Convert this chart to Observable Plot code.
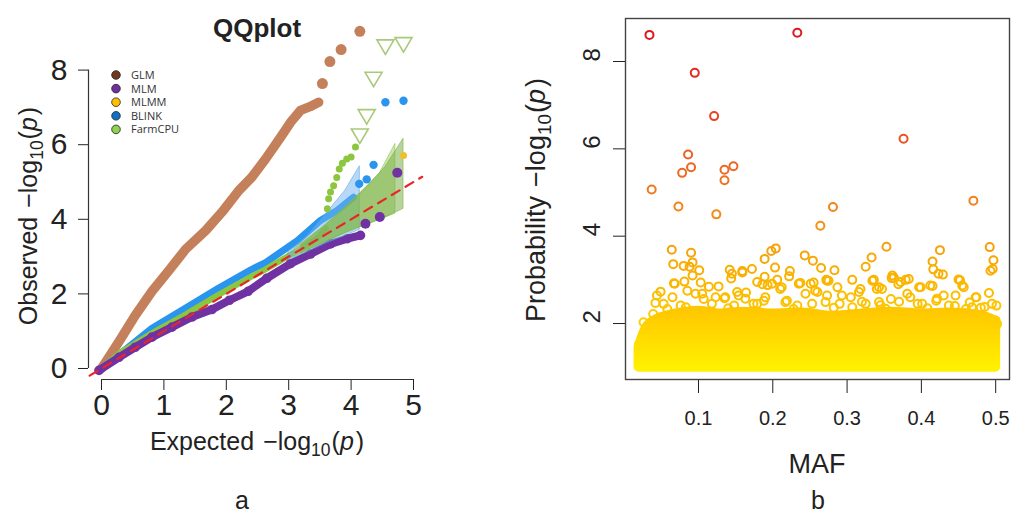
<!DOCTYPE html>
<html><head><meta charset="utf-8">
<script src="https://cdn.jsdelivr.net/npm/d3@7"></script>
<script src="https://cdn.jsdelivr.net/npm/@observablehq/plot@0.6"></script>
<style>
html,body{margin:0;padding:0;background:#fff;}
#wrap{position:relative;width:1011px;height:516px;overflow:hidden;background:#fff;}
#wrap > svg{position:absolute;overflow:visible;}
</style></head><body><div id="wrap"></div>
<script>
// ---------------- Panel a: QQ plot data ----------------
const glmX = [0, 0.28, 0.54, 0.81, 1.08, 1.35, 1.67, 1.93, 2.20, 2.41, 2.63, 2.87, 3.03, 3.19, 3.34, 3.48];
const glmY = [0, 0.72, 1.42, 2.07, 2.63, 3.20, 3.70, 4.19, 4.77, 5.13, 5.62, 6.20, 6.60, 6.92, 7.02, 7.14];
const glmTopX = [3.54, 3.66, 3.84, 4.14];
const glmTopY = [7.64, 8.23, 8.55, 9.04];

const mlmX = [-0.04, 0.28, 0.54, 0.81, 1.13, 1.45, 1.77, 2.05, 2.35, 2.65, 3.03, 3.35, 3.67, 3.94, 4.15];
const mlmY = [-0.05, 0.30, 0.57, 0.84, 1.11, 1.38, 1.58, 1.83, 2.07, 2.42, 2.81, 3.07, 3.34, 3.48, 3.57];
const mlmTopX = [4.23, 4.46, 4.74];
const mlmTopY = [3.88, 4.06, 5.25];

const mlmmX = [4.84];
const mlmmY = [5.71];

const blinkX = [0, 0.38, 0.81, 1.35, 1.88, 2.41, 2.63, 3.14, 3.51, 3.78, 4.04];
const blinkY = [0, 0.50, 1.08, 1.62, 2.16, 2.66, 2.84, 3.43, 3.97, 4.24, 4.59];
const blinkTopX = [4.13, 4.25, 4.36, 4.55, 4.84];
const blinkTopY = [4.95, 5.07, 5.46, 7.14, 7.18];

const farmX = [0, 0.28, 0.81, 1.35, 1.88, 2.41, 2.60, 3.14, 3.46, 3.60];
const farmY = [0, 0.40, 0.95, 1.45, 1.98, 2.47, 2.63, 3.16, 3.50, 3.75];
const farmTopX = [3.62, 3.64, 3.67, 3.72, 3.77, 3.81, 3.86, 3.93, 4.00, 4.07];
const farmTopY = [4.28, 4.55, 4.73, 4.90, 5.12, 5.35, 5.50, 5.62, 5.67, 5.94];
const farmTriX = [4.14, 4.25, 4.36, 4.55, 4.84];
const farmTriY = [6.25, 6.77, 7.77, 8.64, 8.70];

const bandBlinkX  = [3.0, 3.3, 3.6, 3.9, 4.14];
const bandBlinkLo = [2.90, 3.12, 3.35, 3.55, 3.72];
const bandBlinkHi = [3.15, 3.55, 4.15, 4.75, 5.42];
const bandFarmX  = [3.1, 3.5, 3.9, 4.2, 4.45, 4.71];
const bandFarmLo = [3.00, 3.32, 3.62, 3.82, 3.98, 4.15];
const bandFarmHi = [3.22, 3.72, 4.30, 4.78, 5.20, 6.02];
const bandMlmmX  = [3.2, 3.6, 4.0, 4.3, 4.55, 4.84];
const bandMlmmLo = [3.08, 3.40, 3.70, 3.88, 4.05, 4.28];
const bandMlmmHi = [3.32, 3.85, 4.45, 4.95, 5.40, 6.16];

const diagX = [-0.19, 5.14];

const qqXTicks = [0, 1, 2, 3, 4, 5];
const qqXTickLabels = ["0", "1", "2", "3", "4", "5"];
const qqYTicks = [0, 2, 4, 6, 8];
const qqYTickLabels = ["0", "2", "4", "6", "8"];

const legendNames  = ["GLM", "MLM", "MLMM", "BLINK", "FarmCPU"];
const legendColors = ["#71391c", "#7030a0", "#ffc000", "#1170c4", "#92d050"];

// ---------------- Panel b: MAF scatter data ----------------
const mafX = [0.034,0.233,0.095,0.121,0.376,0.086,0.090,0.078,0.135,0.147,0.135,0.037,0.073,0.124,0.281,0.264,0.470,
  0.064,0.090,0.204,0.198,0.243,0.353,0.425,0.492,0.333,0.189,0.254,0.415,0.497,
  0.066,0.080,0.092,0.088,0.101,0.142,0.144,0.159,0.172,0.203,0.223,0.222,0.265,0.283,0.325,0.363,0.379,0.416,0.429,0.452,0.496,
  0.272,0.307,0.336,0.360,0.450,0.457,0.491,
  0.049,0.067,0.081,0.103,0.114,0.127,0.135,0.154,0.164,0.186,0.189,0.193,0.206,0.212,0.237,0.244,0.255,0.257,0.275,0.287,
  0.318,0.340,0.343,0.369,0.399,0.415,0.474,0.501,0.502,0.273,0.305,0.359,0.430,0.385,
  0.065,0.042,0.026,0.020,0.039,0.076,0.044,0.053,0.085,0.096,0.107,0.123,0.148,0.174,0.188,0.219,0.233,0.253,
  0.290,0.320,0.345,0.370,0.395,0.420,0.445,0.465,0.485,
  0.068,0.092,0.105,0.136,0.152,0.163,0.145,0.159,0.199,0.210,0.190,0.235,0.251,0.260,0.273,0.271,0.293,0.316,0.334,
  0.347,0.343,0.361,0.372,0.383,0.397,0.381,0.412,0.423,0.421,0.455,0.446,0.473,0.495,0.500,0.493,0.179,0.083,0.118,
  0.179,0.217,0.307,0.325,0.401,0.437,0.468,0.058,0.030,0.140,0.228,0.282,0.352,0.408,0.460,0.480];
const mafY = [8.61,8.66,7.74,6.75,6.23,5.87,5.58,5.45,5.52,5.60,5.28,5.07,4.68,4.50,4.67,4.24,4.81,
  3.69,3.62,3.72,3.66,3.56,3.76,3.68,3.75,3.51,3.48,3.44,3.42,3.45,
  3.36,3.32,3.40,3.30,3.22,3.23,3.03,3.20,3.25,3.28,3.20,3.08,3.27,3.22,3.30,3.05,3.00,3.24,3.12,2.99,3.25,
  3.00,3.00,3.00,3.04,3.01,2.83,2.70,
  2.73,2.92,2.96,2.94,2.84,2.85,2.58,2.64,2.71,2.90,3.07,2.88,3.00,2.83,2.93,2.68,2.94,2.75,2.98,2.83,
  2.79,2.79,2.83,2.90,2.83,2.86,2.60,2.41,1.99,2.64,2.60,2.56,2.64,2.60,
  2.60,2.47,2.03,1.53,2.22,2.41,2.64,2.45,2.75,2.68,2.56,2.60,2.41,2.45,2.52,2.52,2.41,2.45,
  2.45,2.50,2.42,2.50,2.45,2.52,2.40,2.48,2.38,
  2.91,3.10,2.68,2.60,2.72,2.57,3.14,3.17,2.91,2.79,2.60,2.91,2.91,2.72,2.98,2.49,2.64,2.72,2.98,
  2.79,2.49,3.10,2.95,3.02,2.83,2.68,2.87,3.14,2.57,2.87,2.64,2.60,2.45,2.07,3.21,2.95,2.37,2.45,
  2.45,2.49,2.37,2.45,2.45,2.41,2.37,2.33,1.85,2.35,2.33,2.36,2.34,2.35,2.33,2.36];
// upper envelope of the dense, fully overlapped cloud of points
const bandMaf = [0.020,0.030,0.045,0.060,0.080,0.100,0.130,0.160,0.200,0.240,0.280,0.320,0.360,0.400,0.440,0.480,0.500];
const bandTop = [1.45, 1.90, 2.10, 2.18, 2.25, 2.28, 2.22, 2.26, 2.22, 2.24, 2.16, 2.22, 2.26, 2.22, 2.24, 2.18, 2.05];
const bandBase = 1;

const mafTicks = [0.1, 0.2, 0.3, 0.4, 0.5];
const mafTickLabels = ["0.1", "0.2", "0.3", "0.4", "0.5"];
const probTicks = [2, 4, 6, 8];

const colorStops = [1, 2, 3, 4, 5, 6, 7, 8.7];
const colorRange = ["#ffef00", "#ffd000", "#fab400", "#f49a10", "#f07a20", "#eb5a24", "#e63c24", "#e0161e"];

// ---------------- helpers ----------------
const zip = (xs, ys) => xs.map((x, i) => ({x, y: ys[i]}));
const zipBand = (xs, lo, hi) => xs.map((x, i) => ({x, lo: lo[i], hi: hi[i]}));
const FONT = "'Liberation Sans', Arial, Helvetica, sans-serif";
const cGLM = "#c4805a", cMLM = "#7032a2", cMLMM = "#f2be2a", cBLINK = "#2a95ee", cFARM = "#8cc63e";

const triangleDown = {
  draw(context, size) {
    const r = Math.sqrt(size / Math.PI);
    context.moveTo(-r, -0.75 * r);
    context.lineTo(r, -0.75 * r);
    context.lineTo(0, 0.95 * r);
    context.closePath();
  }
};

const wrap = document.getElementById("wrap");

// ---------------- Panel a ----------------
const xDomA = [-0.2083, 5.1923];
const yDomA = [-0.295, 9.330];
const left = Plot.plot({
  width: 450, height: 420,
  marginLeft: 88, marginRight: 25, marginTop: 20, marginBottom: 41,
  style: {fontFamily: FONT, fontSize: "30px", background: "transparent", color: "#222"},
  x: {domain: xDomA, ticks: qqXTicks, tickFormat: d => qqXTickLabels[qqXTicks.indexOf(d)], tickSize: 11, tickPadding: 3, label: null},
  y: {domain: yDomA, ticks: qqYTicks, tickFormat: d => qqYTickLabels[qqYTicks.indexOf(d)], tickSize: 10, tickPadding: 11, label: null},
  marks: [
    Plot.ruleY([yDomA[0]], {x1: qqXTicks[0], x2: qqXTicks[qqXTicks.length - 1], stroke: "#333", strokeWidth: 1.2}),
    Plot.ruleX([xDomA[0]], {y1: qqYTicks[0], y2: qqYTicks[qqYTicks.length - 1], stroke: "#333", strokeWidth: 1.2}),
    Plot.line(zip(glmX, glmY), {x: "x", y: "y", stroke: cGLM, strokeWidth: 9.5, strokeLinecap: "round", strokeLinejoin: "round"}),
    Plot.dot(zip(glmTopX, glmTopY), {x: "x", y: "y", r: 5.5, fill: cGLM}),
    Plot.line(zip(blinkX, blinkY), {x: "x", y: "y", stroke: cBLINK, strokeWidth: 7, strokeLinecap: "round", strokeLinejoin: "round"}),
    Plot.line(zip(farmX, farmY), {x: "x", y: "y", stroke: cFARM, strokeWidth: 6, strokeLinecap: "round", strokeLinejoin: "round"}),
    Plot.line(zip(mlmX, mlmY), {x: "x", y: "y", stroke: cMLM, strokeWidth: 8, strokeLinecap: "round", strokeLinejoin: "round"}),
    Plot.dot(zip(mlmX, mlmY), {x: "x", y: "y", r: 4.8, fill: cMLM}),
    Plot.areaY(zipBand(bandBlinkX, bandBlinkLo, bandBlinkHi), {x: "x", y1: "lo", y2: "hi", fill: "#6fb3f0", fillOpacity: 0.5, stroke: "#4a9be6", strokeOpacity: 0.5}),
    Plot.areaY(zipBand(bandFarmX, bandFarmLo, bandFarmHi), {x: "x", y1: "lo", y2: "hi", fill: "#a3d06c", fillOpacity: 0.55, stroke: "#8cc450", strokeOpacity: 0.6}),
    Plot.areaY(zipBand(bandMlmmX, bandMlmmLo, bandMlmmHi), {x: "x", y1: "lo", y2: "hi", fill: "#6fa93a", fillOpacity: 0.5, stroke: "#7cb446", strokeOpacity: 0.6}),
    Plot.dot(zip(blinkTopX, blinkTopY), {x: "x", y: "y", r: 4.2, fill: cBLINK}),
    Plot.dot(zip(farmTopX, farmTopY), {x: "x", y: "y", r: 3.5, fill: cFARM}),
    Plot.dot(zip(mlmTopX, mlmTopY), {x: "x", y: "y", r: 5, fill: cMLM}),
    Plot.dot(zip(mlmmX, mlmmY), {x: "x", y: "y", r: 3.5, fill: cMLMM}),
    Plot.dot(zip(farmTriX, farmTriY), {x: "x", y: "y", r: 8.5, symbol: triangleDown, stroke: "#a9c97a", strokeWidth: 1.6, fill: "none"}),
    Plot.line(diagX, {x: d => d, y: d => d, stroke: "#e8262a", strokeWidth: 2.2, strokeDasharray: "9,7"})
  ]
});
left.style.left = "0px"; left.style.top = "0px";
wrap.appendChild(left);

// ---------------- Panel b ----------------
const xDomB = [0.00175, 0.5186];
const yDomB = [0.718, 8.985];
const colorAt = d3.scaleLinear().domain(colorStops).range(colorRange);
const right = Plot.plot({
  width: 511, height: 420,
  marginLeft: 125, marginRight: 2, marginTop: 18, marginBottom: 41,
  style: {fontFamily: FONT, fontSize: "20px", background: "transparent", color: "#222"},
  x: {domain: xDomB, ticks: mafTicks, tickFormat: d => mafTickLabels[mafTicks.indexOf(d)], tickSize: 14, tickPadding: 17, label: null},
  y: {domain: yDomB, ticks: probTicks, tickSize: 12, tickFormat: () => "", label: null},
  color: {type: "linear", domain: colorStops, range: colorRange},
  marks: [
    Plot.areaY(bandMaf.map((m, i) => ({maf: m, top: bandTop[i]})), {
      x: "maf", y1: bandBase, y2: "top", fill: "url(#mafBandGrad)", stroke: "url(#mafBandGrad)",
      strokeWidth: 10, strokeLinejoin: "round", curve: "monotone-x"
    }),
    Plot.dot(zip(mafX, mafY), {x: "x", y: "y", stroke: "y", r: 4, strokeWidth: 2, fill: "none"}),
    Plot.text(probTicks, {y: d => d, text: d => String(d), frameAnchor: "left", dx: -33, rotate: -90, fontSize: 24, fill: "#222"}),
    Plot.frame({stroke: "#444", strokeWidth: 1.4})
  ]
});
right.style.left = "500px"; right.style.top = "0px";
// gradient for the dense band, taken from the same colour ramp
{
  const ns = "http://www.w3.org/2000/svg";
  const defs = document.createElementNS(ns, "defs");
  const g = document.createElementNS(ns, "linearGradient");
  g.setAttribute("id", "mafBandGrad");
  g.setAttribute("x1", "0"); g.setAttribute("y1", "1"); g.setAttribute("x2", "0"); g.setAttribute("y2", "0");
  const topV = d3.max(bandTop);
  [1, 1.4, 1.8, 2.1, topV].forEach(v => {
    const s = document.createElementNS(ns, "stop");
    s.setAttribute("offset", String((v - bandBase) / (topV - bandBase)));
    s.setAttribute("stop-color", colorAt(v));
    g.appendChild(s);
  });
  defs.appendChild(g);
  right.insertBefore(defs, right.firstChild);
}
wrap.appendChild(right);

// ---------------- Overlay texts & legend ----------------
const ov = d3.create("svg").attr("width", 1011).attr("height", 516)
  .style("left", "0px").style("top", "0px").style("pointer-events", "none")
  .attr("font-family", FONT).attr("fill", "#222");

function logTitle(sel, prefix, fs, gap) {
  sel.attr("font-size", fs);
  sel.append("tspan").text(prefix);
  sel.append("tspan").attr("dx", gap).text("\u2212log");
  sel.append("tspan").attr("font-size", fs * 0.7).attr("dy", fs * 0.22).text("10");
  sel.append("tspan").attr("dy", -fs * 0.22).attr("dx", 1).text("(");
  sel.append("tspan").attr("font-style", "italic").text("p");
  sel.append("tspan").attr("dx", 2).text(")");
}

ov.append("text").attr("x", 257).attr("y", 37).attr("text-anchor", "middle")
  .attr("font-size", 26).attr("font-weight", "bold").text("QQplot");
logTitle(ov.append("text").attr("x", 257).attr("y", 450).attr("text-anchor", "middle"), "Expected", 25, 9);
logTitle(ov.append("text").attr("transform", "translate(37,216) rotate(-90)").attr("text-anchor", "middle"), "Observed", 25, 9);
logTitle(ov.append("text").attr("transform", "translate(545,200) rotate(-90)").attr("text-anchor", "middle"), "Probability", 27, 9);
ov.append("text").attr("x", 817).attr("y", 473).attr("text-anchor", "middle").attr("font-size", 27).text("MAF");
ov.append("text").attr("x", 242).attr("y", 509).attr("text-anchor", "middle").attr("font-size", 25).text("a");
ov.append("text").attr("x", 818).attr("y", 509).attr("text-anchor", "middle").attr("font-size", 25).text("b");

const lg = ov.append("g");
legendNames.forEach((name, i) => {
  const cy = 75 + i * 13.6;
  lg.append("circle").attr("cx", 116).attr("cy", cy).attr("r", 4.3)
    .attr("fill", legendColors[i]).attr("stroke", "#222").attr("stroke-width", 0.8);
  lg.append("text").attr("x", 131).attr("y", cy + 4).attr("font-family", "'Open Sans', sans-serif")
    .attr("font-size", 11).attr("fill", "#333").text(name);
});
wrap.appendChild(ov.node());
</script></body></html>
